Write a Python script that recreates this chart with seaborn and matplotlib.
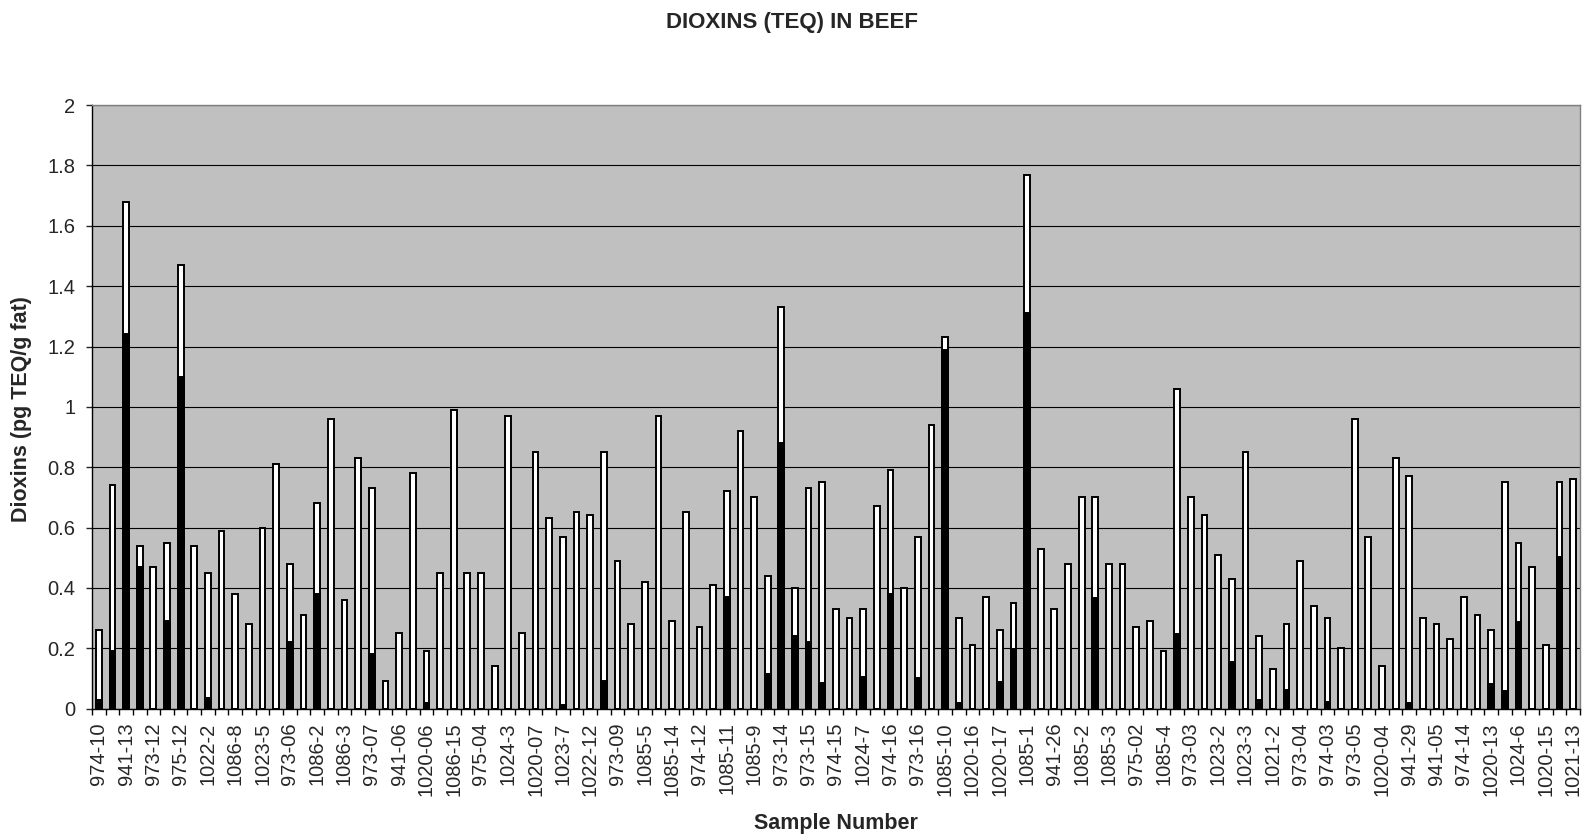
import matplotlib
matplotlib.use("Agg")
import matplotlib.pyplot as plt
import seaborn as sns
import pandas as pd
import numpy as np

# only every other sample carries a label on the axis
tick_labels = [
    "974-10", "941-13", "973-12", "975-12", "1022-2", "1086-8", "1023-5", "973-06",
    "1086-2", "1086-3", "973-07", "941-06", "1020-06", "1086-15", "975-04", "1024-3",
    "1020-07", "1023-7", "1022-12", "973-09", "1085-5", "1085-14", "974-12", "1085-11",
    "1085-9", "973-14", "973-15", "974-15", "1024-7", "974-16", "973-16", "1085-10",
    "1020-16", "1020-17", "1085-1", "941-26", "1085-2", "1085-3", "975-02", "1085-4",
    "973-03", "1023-2", "1023-3", "1021-2", "973-04", "974-03", "973-05", "1020-04",
    "941-29", "941-05", "974-14", "1020-13", "1024-6", "1020-15", "1021-13",
]

# full bar height (pg TEQ/g fat)
teq_total = [
    0.26, 0.74, 1.68, 0.54, 0.47, 0.55, 1.47, 0.54, 0.45, 0.59,
    0.38, 0.28, 0.60, 0.81, 0.48, 0.31, 0.68, 0.96, 0.36, 0.83,
    0.73, 0.09, 0.25, 0.78, 0.19, 0.45, 0.99, 0.45, 0.45, 0.14,
    0.97, 0.25, 0.85, 0.63, 0.57, 0.65, 0.64, 0.85, 0.49, 0.28,
    0.42, 0.97, 0.29, 0.65, 0.27, 0.41, 0.72, 0.92, 0.70, 0.44,
    1.33, 0.40, 0.73, 0.75, 0.33, 0.30, 0.33, 0.67, 0.79, 0.40,
    0.57, 0.94, 1.23, 0.30, 0.21, 0.37, 0.26, 0.35, 1.77, 0.53,
    0.33, 0.48, 0.70, 0.70, 0.48, 0.48, 0.27, 0.29, 0.19, 1.06,
    0.70, 0.64, 0.51, 0.43, 0.85, 0.24, 0.13, 0.28, 0.49, 0.34,
    0.30, 0.20, 0.96, 0.57, 0.14, 0.83, 0.77, 0.30, 0.28, 0.23,
    0.37, 0.31, 0.26, 0.75, 0.55, 0.47, 0.21, 0.75, 0.76,
]

# black lower part of each bar
teq_dark = [
    0.03, 0.19, 1.24, 0.47, 0, 0.29, 1.10, 0, 0.035, 0,
    0, 0, 0, 0, 0.22, 0, 0.38, 0, 0, 0,
    0.18, 0, 0, 0, 0.02, 0, 0, 0, 0, 0,
    0, 0, 0, 0, 0.013, 0, 0, 0.09, 0, 0,
    0, 0, 0, 0, 0, 0, 0.37, 0, 0, 0.115,
    0.88, 0.24, 0.22, 0.085, 0, 0, 0.105, 0, 0.38, 0,
    0.10, 0, 1.19, 0.02, 0, 0, 0.087, 0.197, 1.31, 0,
    0, 0, 0, 0.365, 0, 0, 0, 0, 0, 0.247,
    0, 0, 0, 0.156, 0, 0.028, 0, 0.06, 0, 0,
    0.023, 0, 0, 0, 0, 0, 0.02, 0, 0, 0,
    0, 0, 0.081, 0.057, 0.287, 0, 0, 0.504, 0,
]

sns.set_style("ticks", rc={
    "axes.facecolor": "#C0C0C0",
    "figure.facecolor": "white",
    "axes.edgecolor": "black",
})
plt.rcParams["font.family"] = ["Liberation Sans", "DejaVu Sans"]

df = pd.DataFrame({
    "sample": np.arange(len(teq_total)),
    "total": teq_total,
    "dark": teq_dark,
})

fig = plt.figure(figsize=(15.85, 8.35), dpi=100)
ax = fig.add_axes([0.0580, 0.1514, 0.9388, 0.7227])

sns.barplot(data=df, x="sample", y="total", color="white", saturation=1,
            edgecolor="black", linewidth=1.4, width=0.42, errorbar=None, ax=ax)
sns.barplot(data=df, x="sample", y="dark", color="black", saturation=1,
            edgecolor="black", linewidth=1.4, width=0.42, errorbar=None, ax=ax)

n = len(teq_total)
ax.set_xlim(-0.5, n - 0.5)
ax.set_ylim(0, 2)
ax.set_yticks(np.arange(0, 2.01, 0.2))
ax.set_yticklabels(["0", "0.2", "0.4", "0.6", "0.8", "1", "1.2", "1.4", "1.6", "1.8", "2"])
ax.yaxis.grid(True, color="black", linewidth=0.8)
ax.set_axisbelow(True)

ax.set_xticks(np.arange(0, n, 2))
ax.set_xticklabels(tick_labels, rotation=90)
ax.set_xticks(np.arange(-0.5, n, 1), minor=True)
ax.tick_params(axis="x", which="major", length=0, pad=10, labelsize=14.5)
ax.tick_params(axis="x", which="minor", length=4, width=1, color="black")
ax.tick_params(axis="y", length=4, width=1, pad=8, labelsize=14.5)

for side in ["top", "right"]:
    ax.spines[side].set_color("#808080")
    ax.spines[side].set_linewidth(1)
for side in ["left", "bottom"]:
    ax.spines[side].set_linewidth(1)

ax.set_xlabel("Sample Number", fontsize=15.5, fontweight="bold")
ax.set_ylabel("Dioxins (pg TEQ/g fat)", fontsize=15.5, fontweight="bold")
ax.xaxis.set_label_coords(0.5, -0.173)
ax.yaxis.set_label_coords(-0.040, 0.497)

fig.text(0.4994, 0.973, "DIOXINS (TEQ) IN BEEF", ha="center", va="center",
         fontsize=16, fontweight="bold")

fig.savefig("out.png", dpi=100)
plt.close()
